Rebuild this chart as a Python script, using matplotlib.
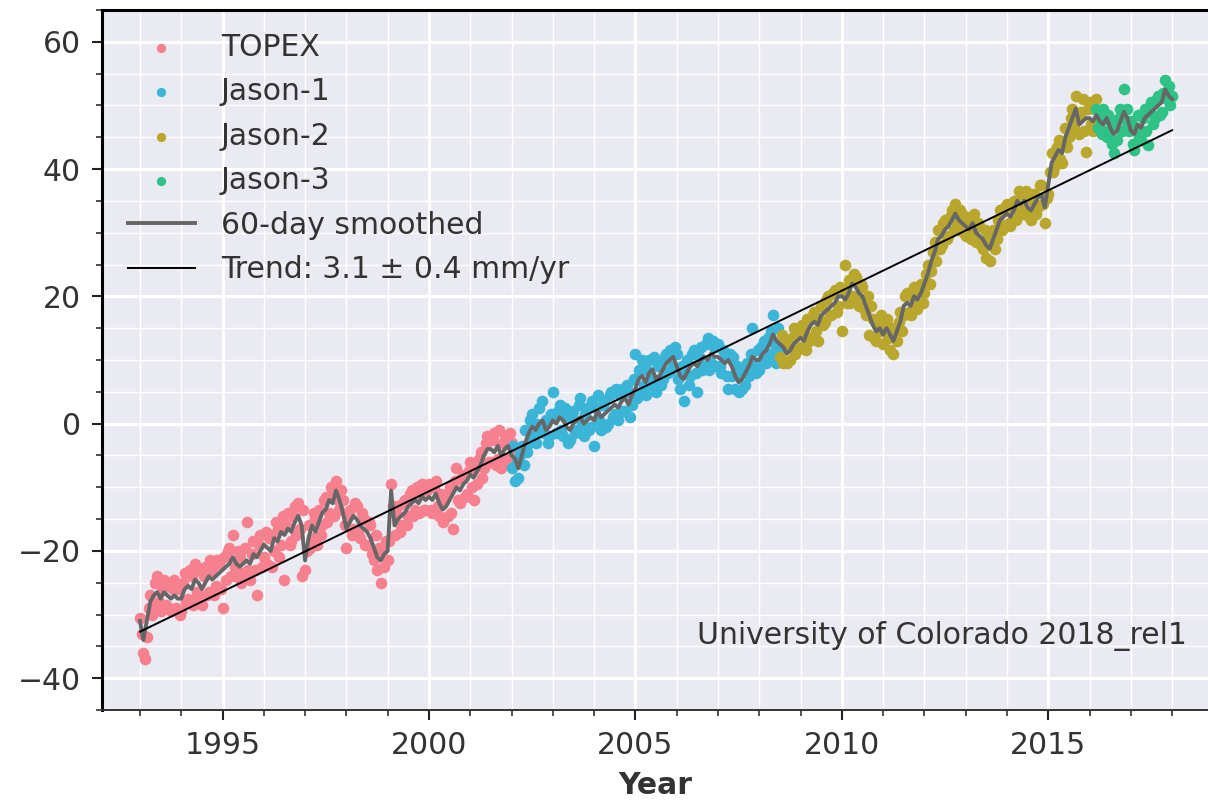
import numpy as np
import matplotlib
matplotlib.use("Agg")
import matplotlib.pyplot as plt
from matplotlib.ticker import MultipleLocator

# Global mean sea level (mm)
# 60-day smoothed curve, monthly samples from 1993.0
smooth_start = 1993.0
smooth_vals = [
    -31, -34, -31, -28, -27, -26.5, -27.5, -26.5, -27, -27.5, -27, -27.5,          # 1993
    -27.5, -26, -25.5, -26, -24.5, -25, -26, -25, -24, -24.5, -24, -23.5,          # 1994
    -23, -22.5, -22, -21, -22, -22.5, -22, -21.5, -22, -20.5, -21, -20,            # 1995
    -19, -19.5, -20, -18, -18.5, -17, -17.5, -16.5, -17, -15.5, -14.5, -16,        # 1996
    -21.5, -18, -16, -17, -15.5, -14, -13.5, -12, -12.5, -10.5, -12, -14,          # 1997
    -16.5, -15.5, -14.5, -15, -16, -16.5, -17, -18, -19.5, -21, -21.5, -20.5,      # 1998
    -20, -10.5, -16, -15, -14.5, -14, -13, -12.5, -12, -12.5, -11.5, -12,          # 1999
    -11.5, -12, -11, -12.5, -13.5, -13, -12, -11, -10, -10.5, -9.5, -9,            # 2000
    -8, -8.5, -7.5, -6.5, -5, -4, -4, -4.5, -3.5, -5, -4, -3.5,                    # 2001
    -5, -5.5, -7, -5, -3, -1.5, -0.5, -1, 0, 0.5, -1, -0.5,                        # 2002
    0.5, 0, 1, 0.5, -0.5, -1, 0, 0.5, 1, 0, 0.5, 1,                                # 2003
    0.5, 2, 1, 1.5, 2, 2.5, 3, 2.5, 3.5, 4, 3, 4.5,                                # 2004
    5.5, 7, 7.5, 6.5, 8, 8.5, 7, 7.5, 8.5, 9.5, 10, 10.5,                          # 2005
    9, 7.5, 7, 8, 9, 9.5, 9, 10, 10.5, 10, 11, 10.5,                               # 2006
    10.5, 10, 9.5, 10, 9, 7.5, 6.5, 7, 8, 9, 10.5, 10,                             # 2007
    10, 11, 11.5, 12.5, 14, 13, 12.5, 12, 11, 11.5, 12.5, 13,                      # 2008
    13.5, 13, 14.5, 15.5, 16, 15.5, 17, 17.5, 18, 18.5, 19, 20,                    # 2009
    20, 19.5, 20.5, 22, 21.5, 20.5, 20, 18.5, 17, 15.5, 14.5, 15,                  # 2010
    14, 15, 14, 13, 14.5, 16, 18.5, 19, 18.5, 20, 19.5, 20.5,                      # 2011
    22, 23.5, 25.5, 27, 29, 29.5, 30.5, 31, 32, 33, 32, 31.5,                      # 2012
    31, 30.5, 31.5, 30, 29.5, 29, 28, 27.5, 29, 30.5, 32, 32.5,                    # 2013
    33, 32.5, 33.5, 35, 34.5, 35, 34, 33.5, 34.5, 35.5, 36, 34,                    # 2014
    37.5, 41, 42, 43, 42.5, 45, 46.5, 48, 49.5, 47, 47.5, 48,                      # 2015
    48, 47.5, 48.5, 47.5, 47, 48, 46.5, 45.5, 46, 47.5, 49, 48,                    # 2016
    46, 45.5, 47, 46.5, 48, 48.5, 49, 49.5, 50, 50.5, 52.5, 51.5,                  # 2017
    51,                                                                            # 2018
]

# individual measurements, two per month
topex_start = 1993.0
topex_vals = [
    -30.5, -33, -36, -37, -33.5, -29, -27, -30, -28.5, -25, -24, -28,
    -29.5, -26, -24.5, -28.5, -25, -29, -29.5, -26, -24.5, -29, -26, -30,
    -29.5, -25, -23.5, -28, -27.5, -23, -24, -28.5, -22, -26.5, -27, -23,
    -28.5, -24, -22.5, -27, -26.5, -21.5, -23, -27, -25.5, -21.5, -22, -26,
    -29, -21, -24.5, -20, -19.5, -24, -17.5, -22.5, -24, -20, -21, -25,
    -23.5, -19.5, -15.5, -23, -24.5, -20.5, -18.5, -23, -27, -19, -17.5, -22.5,
    -21, -17, -22, -18, -17.5, -22.5, -20, -15.5, -16.5, -21, -19, -14.5,
    -24.5, -16, -14, -19, -18.5, -14.5, -13, -17.5, -12.5, -16.5, -24, -13.5,
    -23, -20, -16, -19.5, -18, -14, -15, -19, -13.5, -17.5, -16, -12,
    -11.5, -15.5, -14, -10, -10.5, -14.5, -9, -12, -13.5, -10.5, -12, -16,
    -19.5, -14.5, -13.5, -17.5, -16.5, -12.5, -13, -17, -18, -14, -15, -19,
    -19, -15.5, -16, -20.5, -21.5, -17.5, -23, -19.5, -25, -20, -22.5, -18.5,
    -21.5, -18.5, -9.5, -13, -17.5, -14, -13, -17, -16, -12.5, -12, -16,
    -14.5, -11, -10.5, -14.5, -13.5, -10, -14, -11, -9.5, -13.5, -13.5, -10.5,
    -9.5, -13.5, -14, -10, -9, -13, -14.5, -11, -15.5, -12, -11, -14.5,
    -10, -14, -16.5, -9, -7, -12, -12.5, -8.5, -8, -11.5, -11, -7.5,
    -6, -10, -12, -7, -9.5, -5.5, -4.5, -8.5, -7, -3, -2, -6,
    -6, -2.5, -1.5, -6.5, -5.5, -1, -7, -3, -2, -6, -5.5, -1.5,
    -3, -5,
]

jason1_start = 2002.0
jason1_vals = [
    -7, -3.5, -9, -6, -8.5, -5, -3.5, -6.5, -1, -4.5, -3, 0.5,
    1.5, -2, -3, 0, 2.5, -1, 3.5, -1.5, 0.5, -3, -2, 1.5,
    5, 1.5, -1.5, 2, 3, -1, -2, 2.5, 1, -3, -2.5, 1.5,
    2, -1.5, -1, 3, 4, 0, -2, 1.5, 2.5, -1, -0.5, 3.5,
    -3.5, 2.5, 4.5, 0.5, -1, 3, 3.5, -0.5, 0, 4.5, 5, 1,
    1.5, 5.5, 0.5, 4.5, 5.5, 2, 2, 6, 5, 1, 3, 7,
    11, 4, 8.5, 5, 10, 6, 4.5, 8.5, 10, 6, 7, 10.5,
    5, 9, 9.5, 6, 7, 10.5, 11, 8, 11.5, 8.5, 9, 12,
    11, 7, 5.5, 9, 3.5, 8, 10, 6, 7.5, 11, 11.5, 8,
    5, 10.5, 12, 8.5, 9, 12.5, 13.5, 8.5, 9.5, 13, 12, 9,
    12.5, 9, 8, 11.5, 11, 7.5, 5.5, 11, 7.5, 10.5, 5.5, 9,
    5, 8, 5.5, 8.5, 6, 9.5, 7.5, 11, 15, 9, 8, 11.5,
    8.5, 12, 10, 13, 9.5, 13.5, 11, 14.5, 17, 12.5, 9.5, 15,
    11.5,
]

jason2_start = 2008.5
jason2_vals = [
    10.5, 14, 9.5, 13, 9.5, 12.5, 10, 13.5, 15, 11, 11.5, 14.5,
    12, 15.5, 14.5, 11.5, 16.5, 13, 13.5, 17, 17.5, 14.5, 13, 16.5,
    18.5, 15.5, 16, 19.5, 20, 17, 17, 20.5, 21, 17.5, 18.5, 21.5,
    14.5, 21, 25, 19, 22.5, 19, 20, 23.5, 23, 20, 18.5, 22,
    21.5, 18, 17, 20, 14, 18.5, 16.5, 13.5, 13, 16, 14.5, 17,
    12.5, 15.5, 16.5, 13.5, 11.5, 15, 11, 14.5, 13, 16, 17.5, 14.5,
    17, 20, 20.5, 17.5, 17, 20, 21.5, 18.5, 18, 21, 22, 19,
    20.5, 23.5, 25, 22, 24, 27, 28.5, 25.5, 30.5, 27.5, 28, 31.5,
    32, 29, 29.5, 32.5, 33.5, 30.5, 34.5, 31.5, 30.5, 33.5, 33, 30,
    29.5, 32.5, 32, 29, 30, 33, 28.5, 31.5, 31, 28, 27.5, 30.5,
    26, 29.5, 25.5, 28.5, 30.5, 27.5, 29, 32, 33.5, 30.5, 31, 34,
    34.5, 31.5, 31, 34, 35, 32, 33.5, 36.5, 36, 33, 33.5, 36.5,
    35.5, 32.5, 32, 35, 36, 33, 34, 37.5, 37.5, 34.5, 31.5, 35.5,
    36, 39.5, 42.5, 39.5, 40.5, 43.5, 44.5, 41.5, 41, 44, 46.5, 43.5,
    45, 48, 49.5, 46.5, 51.5, 48, 45.5, 49, 51, 46, 42.7, 49.5,
    50.5, 47, 46, 49.5, 51, 47.5,
]

jason3_start = 2016.1667
jason3_vals = [
    49.5, 46.5, 48, 45.5, 49.5, 46, 45, 48.5, 47.5, 44, 42.5, 46.5,
    44.5, 48, 49.5, 46, 52.5, 47.5, 49.5, 46,
    47.5, 44, 43, 46.5, 48.5, 45, 44.5, 48, 49.5, 46, 43.8, 49,
    50.5, 47, 48, 51, 51.5, 48.5, 49, 52, 54, 51, 53, 50,
    51.5,
]

missions = ["TOPEX", "Jason-1", "Jason-2", "Jason-3"]
mission_colors = ["#f7808f", "#3ab5d8", "#b9a62c", "#2ec286"]

trend_years = [1993.0, 2018.0]
trend_vals = [-32.7, 46.1]
trend_label = "Trend: 3.1 \u00b1 0.4 mm/yr"
credit = "University of Colorado 2018_rel1"

fs = 21.5
plt.rcParams["font.family"] = ["DejaVu Sans"]
plt.rcParams["font.size"] = fs

fig = plt.figure(figsize=(12.08, 8.01), dpi=100)
ax = fig.add_axes([0.0844, 0.1136, 0.9156, 0.874])
ax.set_facecolor("#eaeaf2")

starts = [topex_start, jason1_start, jason2_start, jason3_start]
series = [topex_vals, jason1_vals, jason2_vals, jason3_vals]
for name, col, t0, vals in zip(missions, mission_colors, starts, series):
    t = t0 + np.arange(len(vals)) / 24.0
    ax.scatter(t, vals, s=70, color=col, linewidths=0, label=name, zorder=2)

ts = smooth_start + np.arange(len(smooth_vals)) / 12.0
ax.plot(ts, smooth_vals, color="#666666", lw=2.8, label="60-day smoothed", zorder=3)
ax.plot(trend_years, trend_vals, color="black", lw=1.4, label=trend_label, zorder=4)

ax.set_xlim(1992.08, 2018.87)
ax.set_ylim(-45, 65)
ax.xaxis.set_major_locator(MultipleLocator(5))
ax.xaxis.set_minor_locator(MultipleLocator(1))
ax.yaxis.set_major_locator(MultipleLocator(20))
ax.yaxis.set_minor_locator(MultipleLocator(5))

ax.grid(which="major", color="white", lw=2.2, zorder=0)
ax.grid(which="minor", color="white", lw=1.0, zorder=0)
ax.set_axisbelow(True)

ax.tick_params(which="major", direction="out", length=7, width=1.5,
               color="#222222", labelcolor="#333333", labelsize=fs, pad=8)
ax.tick_params(which="minor", direction="out", length=4, width=1.1, color="#222222")

for side in ["left", "top"]:
    ax.spines[side].set_color("black")
    ax.spines[side].set_linewidth(2.2)
ax.spines["bottom"].set_color("#333333")
ax.spines["bottom"].set_linewidth(1.4)
ax.spines["right"].set_visible(False)

ax.set_xlabel("Year", fontsize=fs, fontweight="bold", color="#333333", labelpad=8)

ax.text(0.981, 0.106, credit, transform=ax.transAxes, ha="right", va="center",
        fontsize=fs, color="#333333")

leg = ax.legend(loc="upper left", bbox_to_anchor=(0.0127, 0.9847), borderaxespad=0,
                frameon=False, fontsize=fs, handlelength=2.24, labelspacing=0.52,
                markerscale=0.8, handletextpad=0.87)
for txt in leg.get_texts():
    txt.set_color("#333333")

fig.savefig("out.png", dpi=100)
